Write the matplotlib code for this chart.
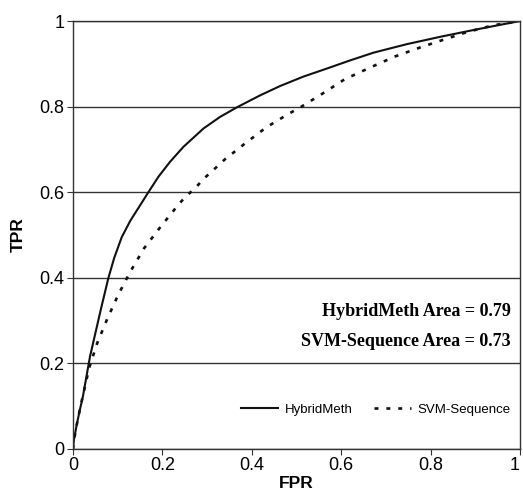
import matplotlib
matplotlib.use("Agg")
import matplotlib.pyplot as plt
from matplotlib.transforms import ScaledTranslation

# ROC points
hybrid_fpr = [0.0, 0.002, 0.008, 0.015, 0.022, 0.038, 0.062, 0.079, 0.092, 0.109, 0.128,
              0.168, 0.191, 0.217, 0.247, 0.292, 0.329, 0.366, 0.418, 0.463, 0.515,
              0.568, 0.620, 0.672, 0.747, 0.821, 0.896, 0.950, 1.0]
hybrid_tpr = [0.0, 0.021, 0.055, 0.090, 0.122, 0.216, 0.325, 0.399, 0.446, 0.495, 0.533,
              0.599, 0.636, 0.671, 0.706, 0.749, 0.776, 0.798, 0.826, 0.848, 0.870,
              0.889, 0.908, 0.926, 0.946, 0.963, 0.979, 0.990, 1.0]

svm_fpr = [0.0, 0.003, 0.008, 0.016, 0.036, 0.054, 0.077, 0.101, 0.128, 0.159, 0.195,
           0.232, 0.251, 0.273, 0.292, 0.314, 0.340, 0.385, 0.433, 0.482, 0.508,
           0.556, 0.608, 0.664, 0.720, 0.776, 0.828, 0.881, 0.940, 1.0]
svm_tpr = [0.0, 0.025, 0.055, 0.096, 0.189, 0.247, 0.305, 0.360, 0.414, 0.469, 0.518,
           0.566, 0.589, 0.609, 0.631, 0.652, 0.677, 0.714, 0.752, 0.783, 0.798,
           0.829, 0.864, 0.891, 0.917, 0.938, 0.956, 0.974, 0.990, 1.0]

ticks = [0, 0.2, 0.4, 0.6, 0.8, 1]
tick_labels = ["0", "0.2", "0.4", "0.6", "0.8", "1"]
notes = ["HybridMeth Area = 0.79", "SVM-Sequence Area = 0.73"]

plt.rcParams['font.family'] = ['Liberation Sans', 'DejaVu Sans']

fig = plt.figure(figsize=(5.23, 4.97), dpi=100)
ax = fig.add_axes([0.1396, 0.0966, 0.8547, 0.8611])

ax.plot(hybrid_fpr, hybrid_tpr, color="#111111", lw=1.5, label="HybridMeth")
ax.plot(svm_fpr, svm_tpr, color="#111111", lw=1.9, linestyle=(0, (1.5, 3)),
        label="SVM-Sequence")

ax.set_xlim(0, 1)
ax.set_ylim(0, 1)
ax.set_xticks(ticks)
ax.set_xticklabels(tick_labels)
ax.set_yticks(ticks)
ax.set_yticklabels(tick_labels)
ax.tick_params(axis="both", labelsize=13, length=4, color="#333333", pad=2)
ax.yaxis.grid(True, color="#333333", lw=1)
ax.set_axisbelow(True)
for s in ax.spines.values():
    s.set_color("#333333")
    s.set_linewidth(1)

# last x label sits on the figure edge, nudge it in a little
last = ax.get_xticklabels()[-1]
last.set_transform(last.get_transform() + ScaledTranslation(-5 / 100, 0, fig.dpi_scale_trans))

ax.set_xlabel("FPR", fontsize=12.5, fontweight="bold", labelpad=1)
ax.set_ylabel("TPR", fontsize=12.5, fontweight="bold", labelpad=10)

ax.text(0.98, 0.322, notes[0], transform=ax.transAxes, ha="right", va="center",
        fontsize=13, fontweight="bold", family="Liberation Serif")
ax.text(0.98, 0.252, notes[1], transform=ax.transAxes, ha="right", va="center",
        fontsize=13, fontweight="bold", family="Liberation Serif")

ax.legend(loc="lower right", bbox_to_anchor=(1.005, 0.05), ncol=2, frameon=False,
          fontsize=9.5, handlelength=2.8, columnspacing=1.6, handletextpad=0.5)

fig.savefig("out.png", dpi=100)
